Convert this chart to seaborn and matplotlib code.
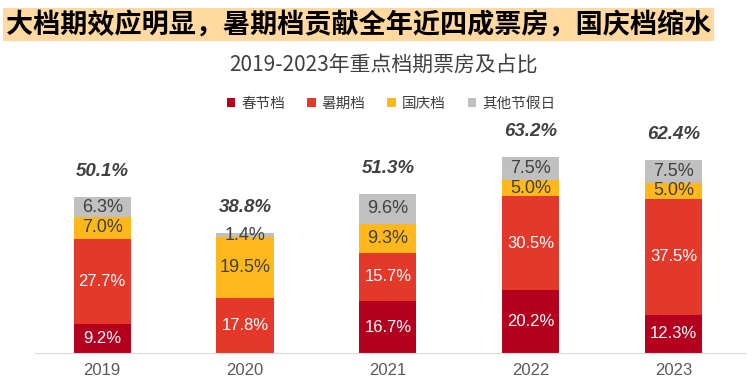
import numpy as np
import pandas as pd
import seaborn as sns
import matplotlib.pyplot as plt
from matplotlib.patches import Patch

years = ["2019", "2020", "2021", "2022", "2023"]
spring = [9.2, 0.0, 16.7, 20.2, 12.3]
summer = [27.7, 17.8, 15.7, 30.5, 37.5]
national = [7.0, 19.5, 9.3, 5.0, 5.0]
other = [6.3, 1.4, 9.6, 7.5, 7.5]
totals = ["50.1%", "38.8%", "51.3%", "63.2%", "62.4%"]
series_names = ["春节档", "暑期档", "国庆档", "其他节假日"]

colors = ["#B4001E", "#E3382A", "#FFB81C", "#C0C0C0"]
txt_colors = ["white", "white", "#404040", "#404040"]

sns.set_style("white")
plt.rcParams['font.family'] = ['Noto Sans CJK SC', 'DejaVu Sans']

fig = plt.figure(figsize=(7.52, 3.81), dpi=100)
ax = fig.add_axes([35 / 752, 28 / 381, 710 / 752, 235 / 381])

df = pd.DataFrame({"year": years, "春节档": spring, "暑期档": summer,
                   "国庆档": national, "其他节假日": other})

bottom = np.zeros(len(years))
for name, c, tc in zip(series_names, colors, txt_colors):
    vals = df[name].values
    sns.barplot(x=df["year"], y=vals, bottom=bottom, color=c, width=0.4,
                ax=ax, saturation=1, edgecolor="none")
    for i, v in enumerate(vals):
        if v > 0:
            ax.text(i, bottom[i] + v / 2, f"{v:.1f}%", ha="center", va="center",
                    color=tc, fontsize=13 if tc == "#404040" else 12,
                    family=['Liberation Sans', 'DejaVu Sans'])
    bottom = bottom + vals

for i, t in enumerate(totals):
    ax.text(i, bottom[i] + 5.5, t, ha="center", va="bottom", color="#404040",
            fontsize=13.5, fontweight="bold", fontstyle="italic",
            family=['Liberation Sans', 'DejaVu Sans'])

ax.set_xlim(-0.47, 4.5)
ax.set_ylim(0, 75.8)
ax.set_yticks([])
ax.set_xlabel("")
ax.set_ylabel("")
for s in ["top", "right", "left"]:
    ax.spines[s].set_visible(False)
ax.spines["bottom"].set_color("#D9D9D9")
ax.tick_params(axis="x", length=0, labelsize=12, colors="#595959", pad=7)
for lab in ax.get_xticklabels():
    lab.set_family(['Liberation Sans', 'DejaVu Sans'])

# title banner
fig.text(0.008, 0.935, "大档期效应明显，暑期档贡献全年近四成票房，国庆档缩水",
         fontsize=19.5, fontweight="bold", color="black", va="center", ha="left",
         bbox=dict(facecolor="#FFD9A0", edgecolor="none", pad=2))
fig.text(0.51, 0.83, "2019-2023年重点档期票房及占比", fontsize=15,
         fontweight="medium", color="#404040", ha="center", va="center")

handles = [Patch(facecolor=c, edgecolor="none") for c in colors]
fig.legend(handles, series_names, loc="center", bbox_to_anchor=(0.52, 0.728),
           ncol=4, frameon=False, fontsize=10.5, handlelength=0.6,
           handleheight=0.6, handletextpad=0.4, columnspacing=1.5,
           labelcolor="#404040")

fig.savefig("out.png", dpi=100)
